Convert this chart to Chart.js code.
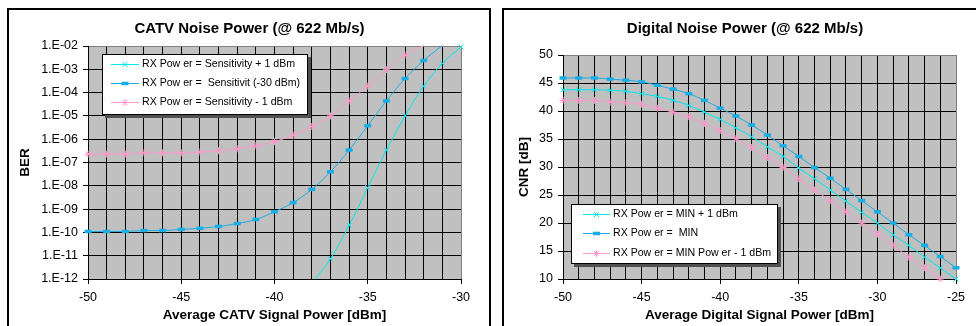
<!DOCTYPE html>
<html>
<head>
<meta charset="utf-8">
<script src="https://cdn.jsdelivr.net/npm/chart.js@4.4.1/dist/chart.umd.min.js"></script>
<style>
  html, body { margin: 0; padding: 0; background: #fff; overflow: hidden; }
  body { width: 976px; height: 326px; position: relative; }
  .panel { position: absolute; border: 2px solid #000; box-sizing: border-box; }
  #catvPanel { left: 7px; top: 8px; width: 484px; height: 340px; }
  #digitalPanel { left: 502px; top: 8px; width: 500px; height: 340px; }
  canvas { position: absolute; top: 0; }
  #catvChart { left: 0; }
  #digitalChart { left: 495px; }
</style>
</head>
<body>
<div class="panel" id="catvPanel"></div>
<div class="panel" id="digitalPanel"></div>
<canvas id="catvChart" width="495" height="326"></canvas>
<canvas id="digitalChart" width="481" height="326"></canvas>
<script>
// CATV noise power: BER vs average CATV signal power
const catvPower = [-50, -49, -48, -47, -46, -45, -44, -43, -42, -41, -40,
                   -39, -38, -37, -36, -35, -34, -33, -32, -31, -30];
const berPlusOne = [null, null, null, null, null, null, null, null, null, null, null,
                    null, 6.5e-13, 7.4e-12, 2.0e-10, 8.3e-9, 3.4e-7, 1.0e-5, 1.9e-4, 1.8e-3, 9.1e-3];
const berNominal = [1.1e-10, 1.1e-10, 1.1e-10, 1.2e-10, 1.2e-10, 1.35e-10, 1.5e-10, 1.8e-10, 2.4e-10, 3.6e-10, 7.7e-10,
                    1.9e-9, 7.0e-9, 4.0e-8, 3.4e-7, 3.8e-6, 4.4e-5, 4.0e-4, 2.4e-3, 1.05e-2, null];
const berMinusOne = [2.3e-7, 2.3e-7, 2.3e-7, 2.6e-7, 2.6e-7, 2.6e-7, 2.8e-7, 3.2e-7, 3.9e-7, 5.3e-7, 7.8e-7,
                     1.5e-6, 3.5e-6, 1.0e-5, 4.4e-5, 1.9e-4, 9.6e-4, 4.1e-3, 1.05e-2, null, null];
const berTicks = [1e-12, 1e-11, 1e-10, 1e-9, 1e-8, 1e-7, 1e-6, 1e-5, 1e-4, 1e-3, 1e-2];

// Digital noise power: CNR vs average digital signal power
const digitalPower = [-50, -49, -48, -47, -46, -45, -44, -43, -42, -41, -40, -39, -38,
                      -37, -36, -35, -34, -33, -32, -31, -30, -29, -28, -27, -26, -25];
const cnrPlusOne = [43.8, 43.8, 43.8, 43.7, 43.5, 43.1, 42.6, 41.9, 41.0, 39.8, 38.5, 37.0, 35.4,
                    33.6, 31.9, 29.8, 27.9, 25.9, 23.9, 21.9, 20.0, 17.9, 16.0, 13.9, 12.0, 10.0];
const cnrNominal = [45.9, 45.9, 45.9, 45.7, 45.5, 45.2, 44.6, 43.9, 43.1, 41.9, 40.5, 39.1, 37.5,
                    35.7, 33.8, 31.9, 29.9, 28.0, 26.0, 24.0, 22.0, 20.0, 17.9, 16.0, 14.0, 12.0];
const cnrMinusOne = [41.9, 41.9, 41.9, 41.6, 41.5, 41.2, 40.5, 39.8, 39.0, 37.8, 36.5, 35.1, 33.5,
                     31.7, 29.9, 27.9, 25.9, 24.0, 22.0, 20.0, 18.0, 16.0, 13.9, 12.0, 10.0, null];
const cnrTicks = [10, 15, 20, 25, 30, 35, 40, 45, 50];

const FONT = "'Liberation Sans', Arial, sans-serif";
const tickFont = { family: FONT, size: 12.5 };
const axisTitleFont = { family: FONT, size: 13.5, weight: 'bold' };

const styles = {
  plus:    { color: '#00E8F0', pointStyle: 'crossRot', radius: 3.5, pointBorderWidth: 1 },
  nominal: { color: '#1AAEE6', pointStyle: 'line',     radius: 3.5, pointBorderWidth: 3.5 },
  minus:   { color: '#FF99CC', pointStyle: 'star',     radius: 3.5, pointBorderWidth: 1 }
};

const formatBer = v => {
  const e = Math.round(Math.log10(v));
  return '1.E' + (e < 0 ? '-' : '+') + String(Math.abs(e)).padStart(2, '0');
};

function series(label, xs, ys, style, yMin, yMax) {
  return {
    label: label,
    data: xs.map((x, i) => ({ x: x, y: ys[i] })),
    borderColor: style.color,
    backgroundColor: style.color,
    borderWidth: 1,
    cubicInterpolationMode: 'monotone',
    pointStyle: style.pointStyle,
    pointBorderColor: style.color,
    pointBackgroundColor: style.color,
    pointBorderWidth: style.pointBorderWidth,
    // markers that fall outside the plot are not shown, only the line runs to the edge
    pointRadius: ctx => {
      const v = ctx.raw ? ctx.raw.y : null;
      return (v == null || v > yMax * 1.0001 || v < yMin * 0.9999) ? 0 : style.radius;
    },
    pointHoverRadius: 0,
    _style: style
  };
}

// gray plot background, chart heading and boxed legend
const panelDecor = {
  id: 'panelDecor',
  beforeDraw(chart) {
    const { ctx, chartArea: a } = chart;
    ctx.save();
    ctx.fillStyle = '#C0C0C0';
    ctx.fillRect(a.left, a.top, a.right - a.left, a.bottom - a.top);
    ctx.restore();
  },
  afterDraw(chart, args, opts) {
    const ctx = chart.ctx;
    ctx.save();
    ctx.fillStyle = '#000';
    ctx.font = 'bold 15px ' + FONT;
    ctx.textAlign = 'center';
    ctx.textBaseline = 'middle';
    ctx.fillText(opts.title, opts.titleX, opts.titleY);

    const L = opts.legend;
    ctx.fillStyle = '#505050';
    ctx.fillRect(L.left + 3, L.top + 3, L.width, L.height);
    ctx.fillStyle = '#fff';
    ctx.fillRect(L.left, L.top, L.width, L.height);
    ctx.strokeStyle = '#000';
    ctx.lineWidth = 1;
    ctx.strokeRect(L.left + 0.5, L.top + 0.5, L.width - 1, L.height - 1);

    ctx.font = '10.6px ' + FONT;
    ctx.textAlign = 'left';
    chart.data.datasets.forEach((ds, i) => {
      const st = ds._style;
      const y = Math.round(L.top + L.rowTop + i * L.rowGap) + 0.5;
      const x0 = L.left + L.sampleLeft;
      ctx.strokeStyle = st.color;
      ctx.fillStyle = st.color;
      ctx.lineWidth = 1;
      ctx.beginPath();
      ctx.moveTo(x0, y);
      ctx.lineTo(x0 + L.sampleLength, y);
      ctx.stroke();
      ctx.lineWidth = st.pointBorderWidth;
      Chart.helpers.drawPoint(ctx, { pointStyle: st.pointStyle, rotation: 0, radius: st.radius, borderWidth: st.pointBorderWidth },
        x0 + L.sampleLength / 2, y);
      ctx.fillStyle = '#000';
      ctx.fillText(ds.label, L.left + L.textLeft, y);
    });
    ctx.restore();
  }
};

function xAxis(min, max, title) {
  return {
    type: 'linear', min: min, max: max,
    ticks: { stepSize: 1, autoSkip: false, maxRotation: 0, padding: 6, color: '#000', font: tickFont,
             callback: v => (v % 5 === 0 ? String(v) : '') },
    grid: { color: c => (c.tick && c.tick.value === max ? '#808080' : '#000'), lineWidth: 1, tickLength: 5,
            tickColor: c => (c.tick && c.tick.value % 5 === 0 ? '#000' : 'rgba(0,0,0,0)') },
    border: { color: '#000', width: 1 },
    title: { display: true, text: title, color: '#000', font: axisTitleFont, padding: { top: 0, bottom: 3 } },
    afterFit: s => { s.height = 47; s.paddingLeft = s.paddingRight = 0; }
  };
}

function yAxis(type, min, max, tickValues, title, width, fmt) {
  return {
    type: type, min: min, max: max,
    afterBuildTicks: s => { s.ticks = tickValues.map(v => ({ value: v })); },
    ticks: { autoSkip: false, padding: 5, color: '#000', font: tickFont, callback: fmt },
    grid: { color: c => (c.tick && c.tick.value === max ? '#808080' : '#000'), lineWidth: 1, tickLength: 5, tickColor: '#000' },
    border: { color: '#000', width: 1 },
    title: { display: true, text: title, color: '#000', font: axisTitleFont, padding: { top: 9, bottom: 0 } },
    afterFit: s => { s.width = width; s.paddingTop = s.paddingBottom = 0; }
  };
}

new Chart(document.getElementById('catvChart'), {
  type: 'line',
  data: {
    datasets: [
      series('RX Pow er = Sensitivity + 1 dBm', catvPower, berPlusOne, styles.plus, 1e-12, 1e-2),
      series('RX Pow er =  Sensitivit (-30 dBm)', catvPower, berNominal, styles.nominal, 1e-12, 1e-2),
      series('RX Pow er = Sensitivity - 1 dBm', catvPower, berMinusOne, styles.minus, 1e-12, 1e-2)
    ]
  },
  options: {
    responsive: false,
    animation: false,
    clip: { left: 6, right: 6, top: 6, bottom: 0 },
    layout: { padding: { left: 8, top: 46, right: 34, bottom: 0 } },
    scales: {
      x: xAxis(-50, -30, 'Average CATV Signal Power [dBm]'),
      y: yAxis('logarithmic', 1e-12, 1e-2, berTicks, 'BER', 80, formatBer)
    },
    plugins: {
      legend: { display: false },
      tooltip: { enabled: false },
      panelDecor: {
        title: 'CATV Noise Power (@ 622 Mb/s)', titleX: 249.5, titleY: 28.5,
        legend: { left: 102, top: 54, width: 206, height: 61, rowTop: 10, rowGap: 19,
                  sampleLeft: 9, sampleLength: 28, textLeft: 40 }
      }
    }
  },
  plugins: [panelDecor]
});

new Chart(document.getElementById('digitalChart'), {
  type: 'line',
  data: {
    datasets: [
      series('RX Pow er = MIN + 1 dBm', digitalPower, cnrPlusOne, styles.plus, 10, 50),
      series('RX Pow er =  MIN', digitalPower, cnrNominal, styles.nominal, 10, 50),
      series('RX Pow er = MIN Pow er - 1 dBm', digitalPower, cnrMinusOne, styles.minus, 10, 50)
    ]
  },
  options: {
    responsive: false,
    animation: false,
    clip: 6,
    layout: { padding: { left: 12, top: 55, right: 20, bottom: 0 } },
    scales: {
      x: xAxis(-50, -25, 'Average Digital Signal Power [dBm]'),
      y: yAxis('linear', 10, 50, cnrTicks, 'CNR [dB]', 56, v => String(v))
    },
    plugins: {
      legend: { display: false },
      tooltip: { enabled: false },
      panelDecor: {
        title: 'Digital Noise Power (@ 622 Mb/s)', titleX: 250, titleY: 28.5,
        legend: { left: 76, top: 204, width: 207, height: 60, rowTop: 9.5, rowGap: 19.5,
                  sampleLeft: 12, sampleLength: 27, textLeft: 42 }
      }
    }
  },
  plugins: [panelDecor]
});
</script>
</body>
</html>
